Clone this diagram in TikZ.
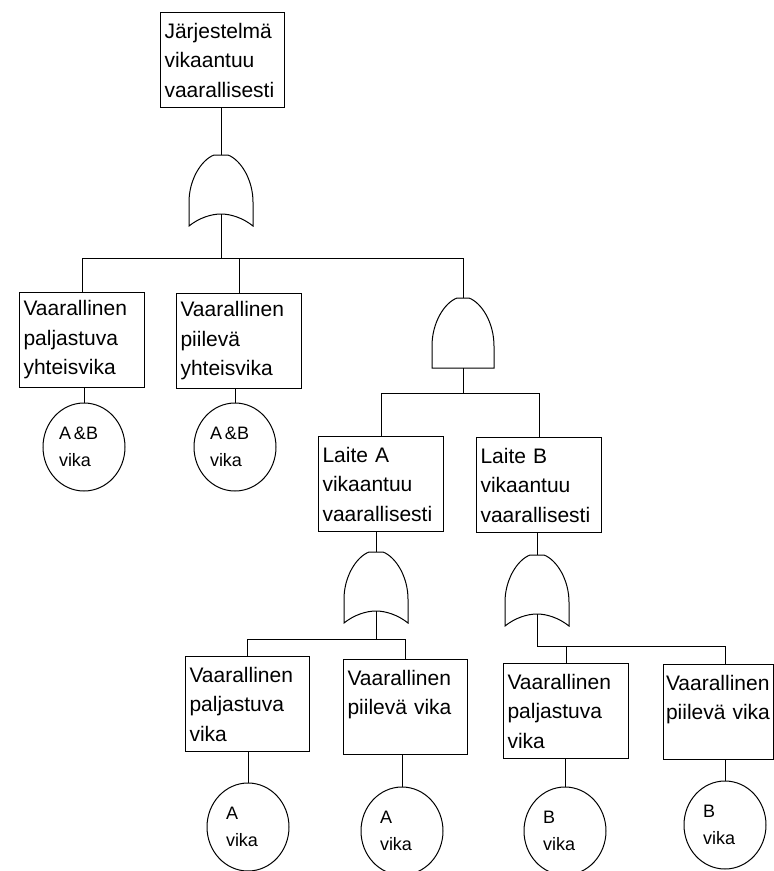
\documentclass[tikz,border=0pt]{standalone}
\usepackage{fontspec}
\setmainfont{Liberation Sans}
\usetikzlibrary{shapes.geometric}
\begin{document}
\begin{tikzpicture}[x=1pt,y=-1pt,line width=1pt,
    box/.style={draw,anchor=north west,align=left,text width=#1,inner xsep=4pt,inner ysep=0pt,
        minimum height=95pt,font=\fontsize{21}{29.5}\selectfont},
    box/.default=117pt,
    basic/.style={ellipse,draw,minimum width=82pt,minimum height=88pt,inner sep=0pt,
        text width=#1,align=left,font=\fontsize{18}{27}\selectfont},
    orgate/.pic={
        \draw (-7,0) -- (7,0) .. controls (20,5) and (32,25) .. (32,47) -- (32,71)
            .. controls (22,63) and (10,59) .. (0,59) .. controls (-10,59) and (-22,63) .. (-32,71)
            -- (-32,47) .. controls (-32,25) and (-20,5) .. (-7,0) -- cycle;
        \coordinate (-in) at (0,0);
        \coordinate (-out) at (0,59);
    },
    andgate/.pic={
        \draw (-6,0) -- (6,0) .. controls (19,5) and (31,25) .. (31,48) -- (31,70) -- (-31,70)
            -- (-31,48) .. controls (-31,25) and (-19,5) .. (-6,0) -- cycle;
        \coordinate (-in) at (0,0);
        \coordinate (-out) at (0,70);
    }]
    \useasboundingbox (0,0) rectangle (774,871);
    \clip (0,0) rectangle (774,871);

    \node[box=116pt] (top) at (160,12) {Järjestelmä\\vikaantuu\\vaarallisesti};

    \node[box] (b1) at (19,292) {Vaarallinen\\paljastuva\\yhteisvika};
    \node[box] (b2) at (176,293) {Vaarallinen\\piilevä\\yhteisvika};
    \node[box] (bA) at (318,436) {Laite A\\vikaantuu\\vaarallisesti};
    \node[box] (bB) at (476,437) {Laite B\\vikaantuu\\vaarallisesti};
    \node[box=116pt] (b3) at (185,656) {Vaarallinen\\paljastuva\\vika};
    \node[box=116pt] (b4) at (343,659) {Vaarallinen\\piilevä~vika\\~};
    \node[box] (b5) at (503,663) {Vaarallinen\\paljastuva\\vika};
    \node[box=105pt,inner xsep=2.5pt] (b6) at (663,664) {Vaarallinen\\piilevä~vika\\~};

    \node[basic=50pt] (c1) at (84,447) {A\,\&B\\vika};
    \node[basic=50pt] (c2) at (235,447) {A\,\&B\\vika};
    \node[basic=44pt] (c3) at (248,827) {A\\vika};
    \node[basic=44pt] (c4) at (402,831) {A\\vika};
    \node[basic=44pt] (c5) at (565,831) {B\\vika};
    \node[basic=44pt] (c6) at (725,825) {B\\vika};

    \pic (g1) at (221,155) {orgate};
    \pic (g2) at (463,298) {andgate};
    \pic (g3) at (376,552) {orgate};
    \pic (g4) at (537,555) {orgate};

    \coordinate (j1) at (221,258);
    \coordinate (j2) at (463,393);
    \coordinate (j3) at (376,639);
    \coordinate (j4) at (537,646);

    \draw (top.south -| g1-in) -- (g1-in);
    \draw (g1-out) -- (j1);
    \draw (b1.north) -- (b1.north |- j1) -- (j1 -| g2-in) -- (g2-in);
    \draw (b2.north) -- (b2.north |- j1);

    \draw (g2-out) -- (j2);
    \draw (bA.north) -- (bA.north |- j2) -- (j2 -| bB.north) -- (bB.north);
    \draw (bA.south -| g3-in) -- (g3-in);
    \draw (bB.south -| g4-in) -- (g4-in);

    \draw (g3-out) -- (j3);
    \draw (b3.north) -- (b3.north |- j3) -- (j3 -| b4.north) -- (b4.north);
    \draw (g4-out) -- (j4) -- (j4 -| c6) -- (b6.north -| c6);
    \draw (b5.north) -- (b5.north |- j4);

    \draw (b1.south -| c1) -- (c1.north);
    \draw (b2.south -| c2) -- (c2.north);
    \draw (b3.south -| c3) -- (c3.north);
    \draw (b4.south -| c4) -- (c4.north);
    \draw (b5.south -| c5) -- (c5.north);
    \draw (b6.south -| c6) -- (c6.north);
\end{tikzpicture}
\end{document}
